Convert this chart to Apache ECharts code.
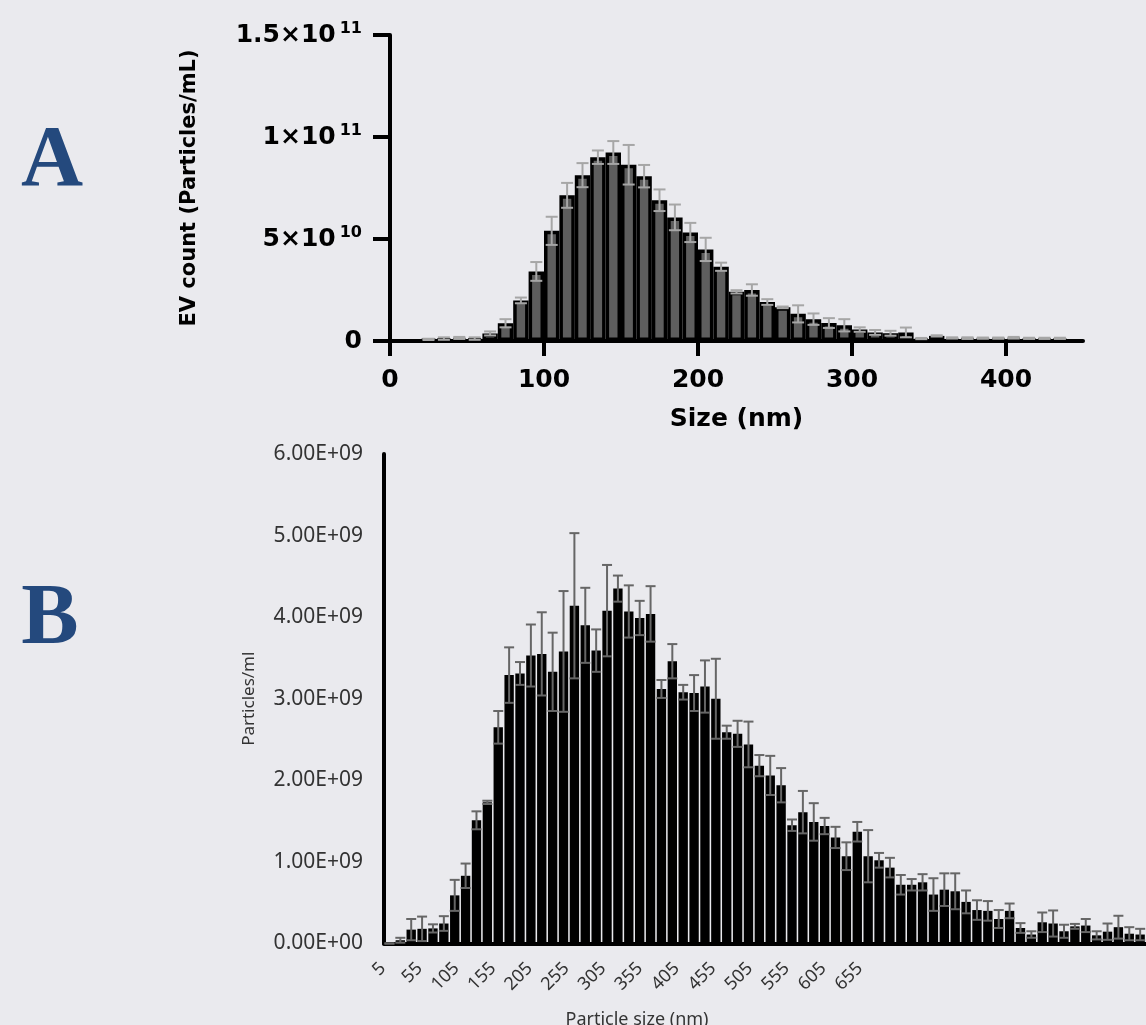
<!DOCTYPE html>
<html>
<head>
<meta charset="utf-8">
<script src="https://cdn.jsdelivr.net/npm/echarts@6/dist/echarts.min.js"></script>
<style>
  html, body { margin: 0; padding: 0; background: #eaeaee; }
  #main { width: 1146px; height: 1025px; }
</style>
</head>
<body>
<div id="main"></div>
<script>
// A: 10 nm bins, counts in 10^9 particles/mL
const binCentersA = [25, 35, 45, 55, 65, 75, 85, 95, 105, 115, 125, 135, 145, 155, 165, 175, 185, 195, 205, 215,
  225, 235, 245, 255, 265, 275, 285, 295, 305, 315, 325, 335, 345, 355, 365, 375, 385, 395, 405, 415, 425, 435];
const countA = [0.8, 1.2, 1.5, 1.2, 3.7, 8.7, 19.9, 34.1, 54.0, 71.4, 81.3, 90.1, 92.4, 86.4, 80.8, 69.0, 60.6, 53.2, 44.9, 36.4,
  24.1, 25.0, 19.1, 16.5, 13.3, 10.7, 8.8, 7.7, 5.6, 4.2, 3.8, 4.2, 1.2, 2.5, 1.5, 1.4, 1.4, 1.4, 1.6, 1.3, 1.3, 1.3];
const sdA = [0.3, 0.6, 0.5, 0.6, 1.0, 2.0, 1.4, 4.6, 6.9, 6.1, 5.9, 3.3, 5.6, 9.7, 5.5, 5.3, 6.3, 4.7, 5.7, 2.0,
  0.8, 2.8, 1.4, 0.4, 4.2, 2.8, 2.4, 3.0, 1.1, 1.2, 1.2, 2.4, 0.3, 0.3, 0.3, 0.4, 0.3, 0.3, 0.4, 0.3, 0.3, 0.3];
const xTicksA = [0, 100, 200, 300, 400];
const yTickBaseA = ['0', '5×10', '1×10', '1.5×10'];
const yTickExpA = ['', '10', '11', '11'];

// B: counts in 10^9 particles/ml, one per bar
const countB = [0, 0.04, 0.17, 0.18, 0.185, 0.245, 0.59, 0.83, 1.51, 1.73,
  2.65, 3.29, 3.31, 3.53, 3.55, 3.33, 3.58, 4.14, 3.90, 3.59,
  4.08, 4.35, 4.07, 3.99, 4.04, 3.12, 3.46, 3.08, 3.07, 3.15,
  3.00, 2.59, 2.57, 2.44, 2.18, 2.06, 1.94, 1.45, 1.61, 1.49,
  1.44, 1.30, 1.07, 1.37, 1.07, 1.02, 0.93, 0.72, 0.72, 0.75,
  0.60, 0.66, 0.64, 0.51, 0.41, 0.40, 0.30, 0.40, 0.19, 0.11,
  0.26, 0.245, 0.15, 0.21, 0.22, 0.10, 0.145, 0.20, 0.12, 0.11];
const sdB = [0, 0.03, 0.13, 0.15, 0.05, 0.09, 0.19, 0.15, 0.11, 0.02,
  0.20, 0.34, 0.14, 0.38, 0.51, 0.48, 0.74, 0.89, 0.46, 0.26,
  0.56, 0.16, 0.32, 0.21, 0.34, 0.11, 0.21, 0.09, 0.22, 0.32,
  0.49, 0.08, 0.16, 0.28, 0.13, 0.24, 0.21, 0.07, 0.26, 0.23,
  0.10, 0.13, 0.17, 0.12, 0.32, 0.09, 0.12, 0.12, 0.07, 0.10,
  0.20, 0.20, 0.22, 0.14, 0.12, 0.12, 0.11, 0.09, 0.06, 0.04,
  0.12, 0.16, 0.08, 0.03, 0.08, 0.05, 0.10, 0.14, 0.08, 0.07];
const sizeTicksB = ['5', '55', '105', '155', '205', '255', '305', '355', '405', '455', '505', '555', '605', '655'];
const yTicksB = ['0.00E+00', '1.00E+09', '2.00E+09', '3.00E+09', '4.00E+09', '5.00E+09', '6.00E+09'];

var chart = echarts.init(document.getElementById('main'));

// error bar with caps top and bottom
function errorBars(color, cap, width) {
  return function (params, api) {
    var x = api.value(0), v = api.value(1), s = api.value(2);
    var hi = api.coord([x, v + s]);
    var lo = api.coord([x, Math.max(v - s, 0)]);
    var st = { stroke: color, lineWidth: width };
    return {
      type: 'group',
      children: [
        { type: 'line', shape: { x1: hi[0], y1: hi[1], x2: lo[0], y2: lo[1] }, style: st },
        { type: 'line', shape: { x1: hi[0] - cap, y1: hi[1], x2: hi[0] + cap, y2: hi[1] }, style: st },
        { type: 'line', shape: { x1: lo[0] - cap, y1: lo[1], x2: lo[0] + cap, y2: lo[1] }, style: st }
      ]
    };
  };
}

var fontA = 'DejaVu Sans';
var fontB = 'Noto Sans';

var option = {
  backgroundColor: '#eaeaee',
  animation: false,
  grid: [
    { left: 390, top: 35, width: 693, height: 306 },
    { left: 384, top: 454, width: 761.6, height: 489.5 },
    { left: 383, top: 454, width: 477, height: 489.5 }
  ],
  xAxis: [
    {
      gridIndex: 0, type: 'value', min: 0, max: 450,
      name: 'Size (nm)', nameLocation: 'middle', nameGap: 66,
      nameTextStyle: { fontFamily: fontA, fontWeight: 'bold', fontSize: 25, color: '#000' },
      axisLine: { lineStyle: { color: '#000', width: 4 } },
      axisTick: { length: 15, lineStyle: { width: 4, color: '#000' }, customValues: xTicksA },
      axisLabel: { customValues: xTicksA, margin: 27, fontFamily: fontA, fontWeight: 'bold', fontSize: 25, color: '#000' },
      splitLine: { show: false }
    },
    {
      gridIndex: 1, type: 'category', data: countB.map(function (_, i) { return i; }),
      axisLine: { lineStyle: { color: '#000', width: 4 } },
      axisTick: { show: false }, axisLabel: { show: false }
    },
    {
      gridIndex: 2, type: 'category', data: sizeTicksB, boundaryGap: false,
      axisLine: { show: false }, axisTick: { show: false },
      axisLabel: { interval: 0, rotate: 45, margin: 22, fontFamily: fontB, fontSize: 18, color: '#333' }
    }
  ],
  yAxis: [
    {
      gridIndex: 0, type: 'value', min: 0, max: 150, interval: 50,
      name: 'EV count (Particles/mL)', nameLocation: 'middle', nameGap: 190,
      nameTextStyle: { fontFamily: fontA, fontWeight: 'bold', fontSize: 21, color: '#000' },
      axisLine: { show: true, lineStyle: { color: '#000', width: 4 } },
      axisTick: { show: true, length: 17, lineStyle: { width: 4, color: '#000' } },
      axisLabel: {
        margin: 28,
        formatter: function (v) {
          var i = Math.round(v / 50);
          return yTickExpA[i] ? '{b|' + yTickBaseA[i] + '}{s|' + yTickExpA[i] + '}' : '{b|' + yTickBaseA[i] + '}';
        },
        rich: {
          b: { fontFamily: fontA, fontWeight: 'bold', fontSize: 25, color: '#000' },
          s: { fontFamily: fontA, fontWeight: 'bold', fontSize: 16, color: '#000', padding: [0, 0, 12, 4] }
        }
      },
      splitLine: { show: false }
    },
    {
      gridIndex: 1, type: 'value', min: 0, max: 6, interval: 1,
      name: 'Particles/ml', nameLocation: 'middle', nameGap: 126,
      nameTextStyle: { fontFamily: fontB, fontSize: 17, color: '#333' },
      axisLine: { show: true, lineStyle: { color: '#000', width: 4 } },
      axisTick: { show: false },
      axisLabel: {
        margin: 21, fontFamily: fontB, fontSize: 21, color: '#333',
        formatter: function (v) { return yTicksB[Math.round(v)]; }
      },
      splitLine: { show: false }
    },
    { gridIndex: 2, type: 'value', show: false }
  ],
  graphic: [
    { type: 'text', style: { x: 52, y: 163, text: 'A', font: 'bold 86px "Liberation Serif"', fill: '#24497d', textAlign: 'center', textVerticalAlign: 'middle' } },
    { type: 'text', style: { x: 50, y: 621, text: 'B', font: 'bold 86px "Liberation Serif"', fill: '#24497d', textAlign: 'center', textVerticalAlign: 'middle' } },
    { type: 'text', style: { x: 637, y: 1020, text: 'Particle size (nm)', font: '18px "Noto Sans"', fill: '#333', textAlign: 'center', textVerticalAlign: 'middle' } }
  ],
  series: [
    {
      type: 'bar', xAxisIndex: 0, yAxisIndex: 0, barWidth: 15.4,
      data: binCentersA.map(function (c, i) { return [c, countA[i]]; }),
      itemStyle: { color: '#5e5e5e', borderColor: '#000', borderWidth: 3.5 }
    },
    {
      type: 'custom', xAxisIndex: 0, yAxisIndex: 0, z: 5,
      renderItem: errorBars('#a6a6a6', 6, 2),
      data: binCentersA.map(function (c, i) { return [c, countA[i], sdA[i]]; })
    },
    {
      type: 'bar', xAxisIndex: 1, yAxisIndex: 1, barCategoryGap: '14%',
      data: countB,
      itemStyle: { color: '#000' }
    },
    {
      type: 'custom', xAxisIndex: 1, yAxisIndex: 1, z: 5,
      renderItem: errorBars('#666', 5, 2),
      data: countB.map(function (v, i) { return [i, v, sdB[i]]; })
    }
  ]
};

chart.setOption(option);
window.addEventListener('resize', function () {
  chart.resize();
});
</script>
</body>
</html>
